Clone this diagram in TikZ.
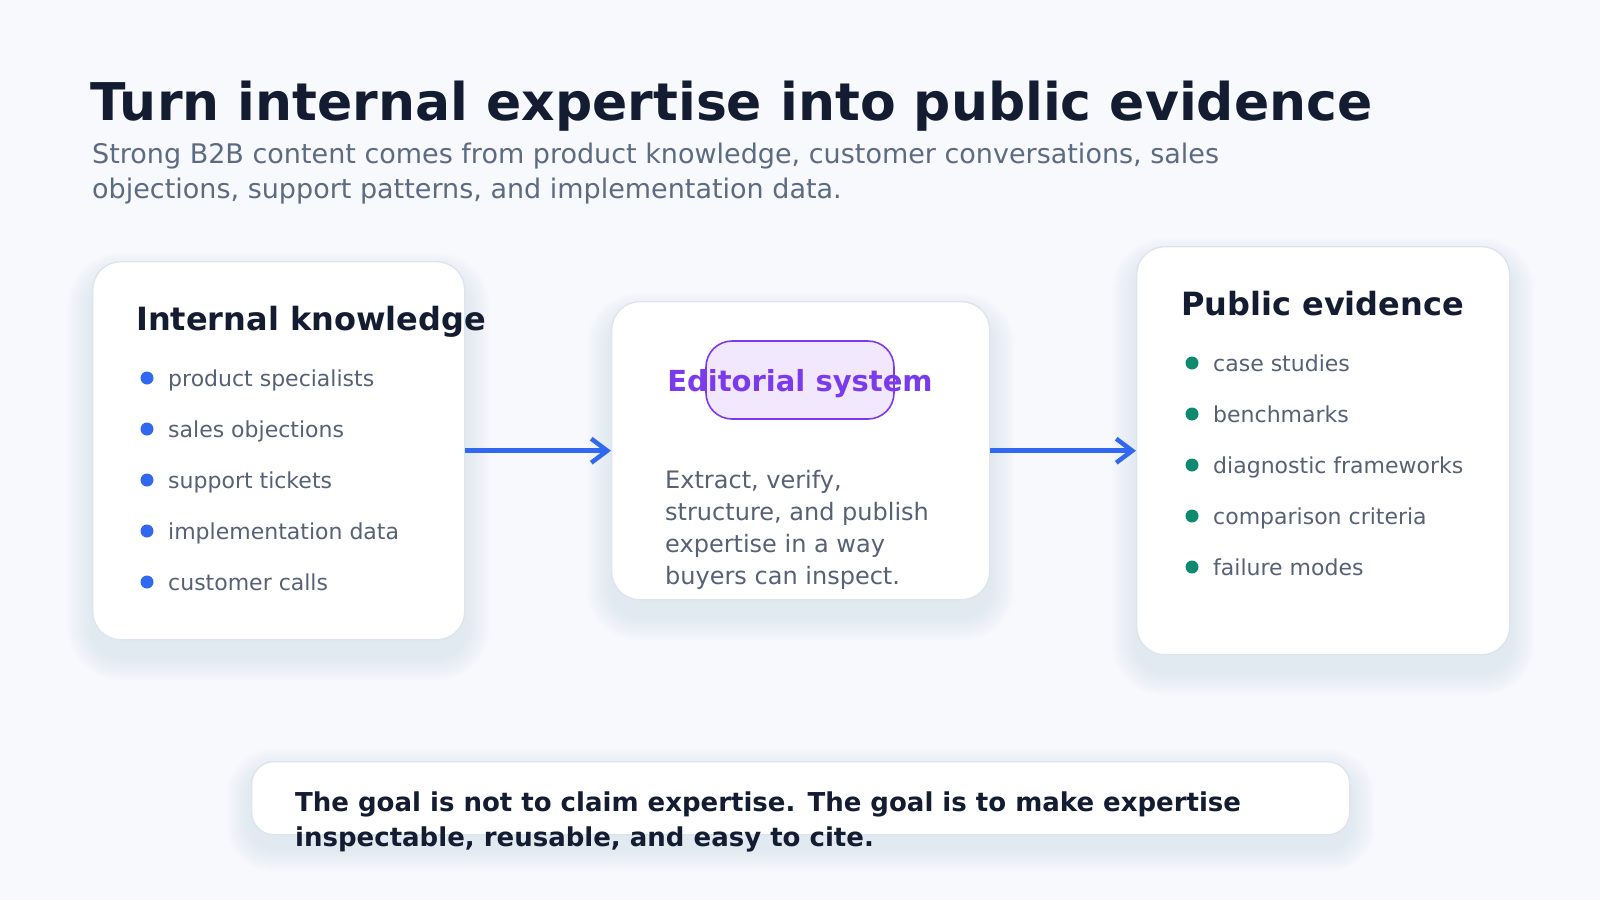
\documentclass[tikz,border=0pt]{standalone}
\usepackage{fontspec}
\setmainfont{DejaVu Sans}
\usetikzlibrary{arrows.meta}
\definecolor{bg}{HTML}{F7F9FC}
\definecolor{ink}{HTML}{131C31}
\definecolor{sub}{HTML}{5D6B82}
\definecolor{itemc}{HTML}{566176}
\definecolor{cardline}{HTML}{DDE4EF}
\definecolor{blue}{HTML}{3168F0}
\definecolor{green}{HTML}{0F8A6E}
\definecolor{purple}{HTML}{7C3AED}
\definecolor{pillfill}{HTML}{F2E8FE}
\definecolor{shadowc}{HTML}{64748B}
\pgfdeclarelayer{back}
\pgfsetlayers{back,main}
\newcommand{\fsz}[2]{\fontsize{#1}{#2}\selectfont}
% soft shadow under a named node: #1 node, #2 corner radius, #3 downward offset
\newcommand{\softshadow}[3]{%
  \foreach \k in {1,...,12} {
    \fill[shadowc, opacity=0.0065, rounded corners={#2+2*\k}]
      ([xshift={-2*\k}, yshift={-#3+2*\k}]#1.north west) rectangle
      ([xshift={2*\k}, yshift={-#3-2*\k}]#1.south east);
  }%
}
\tikzset{
  card/.style={draw=cardline, line width=1.4pt, fill=white, rounded corners=28pt,
    inner sep=0pt, anchor=north west},
  txt/.style={inner sep=0pt, anchor=base west},
  heading/.style={txt, text=ink, font=\fsz{32}{38}\bfseries},
  item/.style={txt, text=itemc, font=\fsz{22}{26}},
  bluedot/.style={circle, fill=blue, inner sep=0pt, minimum size=13pt},
  greendot/.style={circle, fill=green, inner sep=0pt, minimum size=13pt},
  flow/.style={draw=blue, line width=4.5pt, -{Straight Barb[length=16pt, width=24pt]}},
}
\begin{document}
\begin{tikzpicture}[x=1pt, y=-1pt]
\begin{pgfonlayer}{back}
\fill[bg] (0,0) rectangle (1600,900);
\end{pgfonlayer}
\useasboundingbox (0,0) rectangle (1600,900);

% title and subtitle
\node[txt, text=ink, font=\fsz{52}{60}\bfseries] (title) at (90,120) {Turn internal expertise into public evidence};
\node[txt, text=sub] (subtitle) at (92,163) {\parbox[t]{1300pt}{\fsz{27}{35}\selectfont\raggedright
Strong B2B content comes from product knowledge, customer conversations, sales\\
objections, support patterns, and implementation data.}};

% cards
\node[card, minimum width=372pt, minimum height=378pt] (know) at (92,261) {};
\node[card, minimum width=378pt, minimum height=298pt] (edit) at (611,301) {};
\node[card, minimum width=373pt, minimum height=408pt] (pub) at (1136,246) {};

% arrows
\draw[flow] (know.east) -- (edit.west);
\draw[flow] (edit.east) -- (pub.west);

% card 1
\node[heading] (h1) at (136,330) {Internal knowledge};
\foreach \t [count=\i from 0] in {product specialists, sales objections, support tickets, implementation data, customer calls} {
  \node[bluedot] (kd\i) at (147,{378+51*\i}) {};
  \node[item] (kt\i) at (168,{386+51*\i}) {\t};
}

% card 2
\node[draw=purple, line width=1.6pt, fill=pillfill, rounded corners=26pt,
  minimum width=188pt, minimum height=78pt, inner sep=0pt] (pill) at (800,380) {};
\node[inner sep=0pt, anchor=base, text=purple, font=\fsz{29}{34}\bfseries] (eh) at (800,391) {Editorial system};
\node[txt, text=itemc] (ep) at (665,488) {\parbox[t]{300pt}{\fsz{24}{32.3}\selectfont\raggedright
Extract, verify,\\
structure, and publish\\
expertise in a way\\
buyers can inspect.}};

% card 3
\node[heading] (h3) at (1181,315) {Public evidence};
\foreach \t [count=\i from 0] in {case studies, benchmarks, diagnostic frameworks, comparison criteria, failure modes} {
  \node[greendot] (pd\i) at (1192,{363+51*\i}) {};
  \node[item] (pt\i) at (1213,{371+51*\i}) {\t};
}

% bottom note
\node[card, rounded corners=22pt, minimum width=1098pt, minimum height=73pt] (goal) at (251,761) {};
\node[txt, text=ink] (goaltxt) at (295,811) {\parbox[t]{1100pt}{\fsz{26}{35}\selectfont\bfseries\raggedright
The goal is not to claim expertise. The goal is to make expertise\\
inspectable, reusable, and easy to cite.}};

% soft shadows
\begin{pgfonlayer}{back}
\softshadow{know}{28}{16}
\softshadow{edit}{28}{16}
\softshadow{pub}{28}{16}
\softshadow{goal}{22}{12}
\end{pgfonlayer}
\end{tikzpicture}
\end{document}
